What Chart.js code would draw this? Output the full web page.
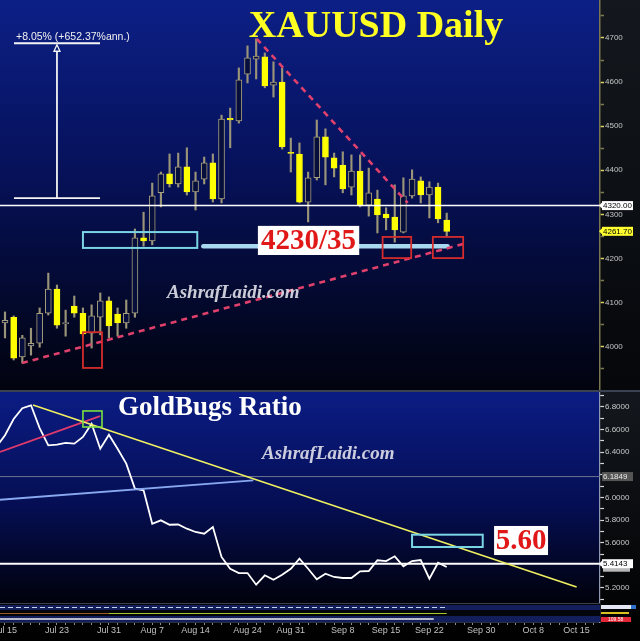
<!DOCTYPE html>
<html><head><meta charset="utf-8">
<script src="https://cdn.jsdelivr.net/npm/chart.js@4.4.1/dist/chart.umd.min.js"></script>
<style>
html,body{margin:0;padding:0;background:#000;width:640px;height:641px;overflow:hidden}
#c1{position:absolute;left:0;top:0;width:640px;height:390px}
#c2{position:absolute;left:0;top:392px;width:640px;height:249px}
#sep{position:absolute;left:0;top:390px;width:640px;height:2px;background:#3a4252}
</style></head><body>
<canvas id="c1" width="640" height="390"></canvas>
<div id="sep"></div>
<canvas id="c2" width="640" height="249"></canvas>
<script>
// ---------- DATA ----------
const dayIndex = [0,1,2,3,4,5,6,7,8,9,10,11,12,13,14,15,16,17,18,19,20,21,22,23,24,25,26,27,28,29,30,31,32,33,34,35,36,37,38,39,40,41,42,43,44,45,46,47,48,49,50,51];
const opens  = [4054,4067,3977,4002,4008,4076,4131,4052,4092,4076,4031,4067,4104,4074,4054,4076,4247,4240,4349,4392,4369,4408,4351,4380,4417,4335,4518,4512,4618,4652,4657,4593,4600,4441,4437,4328,4383,4476,4428,4412,4362,4398,4321,4335,4301,4294,4260,4342,4376,4344,4362,4287];
const highs  = [4079,4070,4026,4042,4088,4167,4140,4083,4115,4088,4095,4122,4113,4088,4106,4267,4305,4371,4396,4437,4439,4451,4396,4430,4437,4525,4541,4632,4682,4698,4666,4646,4632,4473,4462,4396,4514,4494,4439,4442,4435,4435,4405,4355,4315,4367,4383,4401,4385,4374,4371,4303];
const lows   = [4020,3970,3963,3981,3999,4072,4042,4024,4067,4024,3997,4027,4020,4024,4042,4067,4228,4231,4317,4362,4362,4344,4310,4369,4328,4326,4451,4507,4598,4607,4587,4566,4448,4396,4326,4283,4378,4367,4385,4349,4344,4317,4296,4258,4265,4237,4258,4337,4326,4292,4281,4249];
const closes = [4060,3974,4020,4008,4076,4131,4049,4055,4076,4029,4070,4104,4047,4054,4076,4247,4240,4342,4392,4369,4408,4351,4376,4417,4335,4516,4514,4605,4655,4659,4591,4600,4453,4438,4328,4383,4476,4430,4405,4358,4398,4321,4349,4299,4292,4265,4342,4380,4344,4362,4290,4261.7];

const ratioIndex = [-1,0,1,2,3,4,5,6,7,8,9,10,11,12,13,14,15,16,17,18,19,20,21,22,23,24,25,26,27,28,29,30,31,32,33,34,35,36,37,38,39,40,41,42,43,44,45,46,47,48,49,50,51];
const ratioValues = [6.446,6.550,6.694,6.789,6.815,6.614,6.461,6.467,6.482,6.476,6.535,6.652,6.431,6.555,6.431,6.299,6.078,6.063,5.768,5.798,5.759,5.761,5.724,5.695,5.680,5.739,5.474,5.370,5.332,5.332,5.229,5.312,5.273,5.317,5.370,5.459,5.370,5.277,5.326,5.297,5.288,5.288,5.347,5.350,5.445,5.438,5.480,5.392,5.438,5.447,5.282,5.423,5.385];

const xTickIdx    = [0,6,12,17,22,28,33,39,44,49,55,61,66];
const xTickLabels = ['Jul 15','Jul 23','Jul 31','Aug 7','Aug 14','Aug 24','Aug 31','Sep 8','Sep 15','Sep 22','Sep 30','Oct 8','Oct 15'];
const priceTicks      = [3950,4000,4050,4100,4150,4200,4250,4300,4350,4400,4450,4500,4550,4600,4650,4700,4750];
const priceLabelTicks = [4000,4100,4200,4300,4400,4500,4600,4700];
const ratioTicks      = [5.1,5.2,5.3,5.4,5.5,5.6,5.7,5.8,5.9,6.0,6.1,6.2,6.3,6.4,6.5,6.6,6.7,6.8,6.9];
const ratioLabelTicks = [5.2,5.4,5.6,5.8,6.0,6.2,6.4,6.6,6.8];

const priceLine = 4320, lastPrice = 4261.70;
const ratioLine = 5.4143, ratioRef = 6.1849;
const supportLevel = 4228;
const measureLow = 4337, measureHigh = 4688;

// ---------- helpers ----------
const X_MIN = -0.577, X_MAX = 68.7;
function line(ctx,x1,y1,x2,y2){ctx.beginPath();ctx.moveTo(x1,y1);ctx.lineTo(x2,y2);ctx.stroke();}
function noPad(s){s.paddingTop=0;s.paddingBottom=0;s.paddingLeft=0;s.paddingRight=0;}
function valueBox(ctx,x,y,text,bg,fg,notch){
  ctx.save();
  ctx.fillStyle=bg;
  ctx.fillRect(x+2,y-4.5,31,9);
  if(notch){ctx.beginPath();ctx.moveTo(x-1,y);ctx.lineTo(x+2,y-3);ctx.lineTo(x+2,y+3);ctx.closePath();ctx.fill();}
  ctx.fillStyle=fg;ctx.font='8px "Liberation Sans", Arial';ctx.textBaseline='middle';ctx.textAlign='left';
  ctx.fillText(text,x+3,y+0.5);
  ctx.restore();
}
const bgPlugin = {
  id:'bg',
  beforeDraw(chart,args,o){
    const {ctx,chartArea:a,width,height}=chart;
    ctx.save();
    const rg=ctx.createLinearGradient(0,0,0,height);
    rg.addColorStop(0,o.r0);rg.addColorStop(1,o.r1);
    ctx.fillStyle=rg;ctx.fillRect(0,0,width,height);
    const g=ctx.createLinearGradient(0,a.top,0,a.bottom);
    o.stops.forEach(s=>g.addColorStop(s[0],s[1]));
    ctx.fillStyle=g;ctx.fillRect(a.left,a.top,a.right-a.left,a.bottom-a.top);
    ctx.restore();
  }
};

// ---------- TOP CHART ----------
const ann1 = {
  id:'ann1',
  afterDatasetsDraw(chart){
    const ctx=chart.ctx,a=chart.chartArea;
    const X=v=>chart.scales.x.getPixelForValue(v), Y=v=>chart.scales.y.getPixelForValue(v);
    ctx.save();
    ctx.beginPath();ctx.rect(a.left,a.top,a.right-a.left,a.bottom-a.top);ctx.clip();
    ctx.strokeStyle='#ffffff';ctx.lineWidth=1.5;line(ctx,a.left,Y(priceLine),a.right,Y(priceLine));
    // measurement tool
    const xv=X(6.0), yT=Y(measureHigh), yB=Y(measureLow);
    ctx.strokeStyle='#f4f4f4';ctx.lineWidth=1.8;
    line(ctx,X(1.04),yB,X(10.97),yB);
    line(ctx,X(1.04),yT,X(10.97),yT);
    line(ctx,xv,yT+8,xv,yB);
    ctx.lineWidth=1.3;ctx.fillStyle='#0b1c78';
    ctx.beginPath();ctx.moveTo(xv,yT+1.5);ctx.lineTo(xv-3,yT+8);ctx.lineTo(xv+3,yT+8);ctx.closePath();ctx.fill();ctx.stroke();
    ctx.fillStyle='#f0f0f0';ctx.font='10.5px "Liberation Sans", Arial';ctx.textBaseline='alphabetic';ctx.textAlign='left';
    ctx.fillText('+8.05% (+652.37%ann.)',16,yT-3);
    // cyan zone box
    ctx.strokeStyle='#7ad4e4';ctx.lineWidth=2;
    ctx.strokeRect(X(9.0),Y(4260),X(22.2)-X(9.0),Y(4224)-Y(4260));
    // thick support line
    ctx.strokeStyle='#a8d8f0';ctx.lineWidth=4.5;ctx.lineCap='round';
    line(ctx,X(22.9),Y(supportLevel),X(51.1),Y(supportLevel));
    ctx.lineCap='butt';
    // dashed trend lines
    ctx.strokeStyle='#e0406c';ctx.lineWidth=2.6;ctx.setLineDash([6,5]);
    line(ctx,X(1.96),Y(3963),X(52.9),Y(4233));
    line(ctx,X(29.06),Y(4698),X(46.5),Y(4326));
    ctx.setLineDash([]);
    // red boxes
    ctx.strokeStyle='#d42c2c';ctx.lineWidth=1.8;
    [[9.0,11.2,4033,3952],[43.6,46.9,4249,4201],[49.4,52.9,4249,4201]].forEach(b=>{
      ctx.strokeRect(X(b[0]),Y(b[2]),X(b[1])-X(b[0]),Y(b[3])-Y(b[2]));
    });
    // 4230/35 label
    const bx1=X(29.2),bx2=X(40.9),by1=Y(4274),by2=Y(4208);
    ctx.fillStyle='#ffffff';ctx.fillRect(bx1,by1,bx2-bx1,by2-by1);
    ctx.fillStyle='#e01818';ctx.font='bold 29px "Liberation Serif", "Times New Roman", serif';
    ctx.textAlign='center';ctx.textBaseline='middle';
    ctx.fillText('4230/35',(bx1+bx2)/2,(by1+by2)/2+1.5);
    // title
    ctx.fillStyle='#ffff22';ctx.font='bold 38px "Liberation Serif", "Times New Roman", serif';
    ctx.textAlign='center';ctx.textBaseline='alphabetic';
    ctx.fillText('XAUUSD Daily',376,37);
    // watermark
    ctx.fillStyle='rgba(225,225,235,0.9)';ctx.font='italic bold 19px "Liberation Serif", "Times New Roman", serif';
    ctx.textAlign='left';ctx.fillText('AshrafLaidi.com',167,298);
    ctx.restore();
  },
  afterDraw(chart){
    const ctx=chart.ctx,a=chart.chartArea,Y=v=>chart.scales.y.getPixelForValue(v);
    valueBox(ctx,a.right,Y(priceLine),'4320.00','#ffffff','#000000',true);
    valueBox(ctx,a.right,Y(lastPrice),'4261.70','#ffff30','#000000',true);
  }
};

new Chart(document.getElementById('c1'),{
  type:'bar',
  data:{datasets:[
    {label:'wicks',data:dayIndex.map((d,k)=>({x:d,y:[lows[k],highs[k]]})),
     backgroundColor:'#9a9478',barThickness:1.5,grouped:false,order:2},
    {label:'bodies',data:dayIndex.map((d,k)=>({x:d,y:[opens[k],closes[k]]})),
     backgroundColor:c=>closes[c.dataIndex]>=opens[c.dataIndex]?'rgba(6,14,60,1)':'#ffff00',
     borderColor:c=>closes[c.dataIndex]>=opens[c.dataIndex]?'#a8a07c':'#ffff00',
     borderWidth:1,borderSkipped:false,barThickness:6,grouped:false,order:1}
  ]},
  options:{
    responsive:false,animation:false,devicePixelRatio:1,
    layout:{padding:0,autoPadding:false},
    plugins:{legend:{display:false},tooltip:{enabled:false},
      bg:{r0:'#14181e',r1:'#05070a',stops:[[0,'#0c1f86'],[0.45,'#061158'],[1,'#01030e']]}},
    scales:{
      x:{type:'linear',min:X_MIN,max:X_MAX,display:false,offset:false,afterFit:noPad},
      y:{position:'right',min:3902,max:4786,
        afterFit(s){s.width=40;noPad(s);},
        afterBuildTicks(s){s.ticks=priceTicks.map(v=>({value:v}));},
        ticks:{color:'#c4c4c4',font:{size:8,family:'"Liberation Sans", Arial'},padding:1,
          callback:v=>priceLabelTicks.includes(v)?String(v):''},
        grid:{drawOnChartArea:false,drawTicks:true,tickLength:4,
          tickColor:c=>priceLabelTicks.includes(c.tick&&c.tick.value)?'#d8d060':'#7c7a50',tickWidth:1.5},
        border:{display:true,color:'#7a7650',width:1.5}}
    }
  },
  plugins:[bgPlugin,ann1]
});

// ---------- BOTTOM CHART ----------
const ann2 = {
  id:'ann2',
  beforeDatasetsDraw(chart){
    const ctx=chart.ctx,a=chart.chartArea;
    const Y=v=>chart.scales.y.getPixelForValue(v);
    ctx.save();
    ctx.strokeStyle='#6c7290';ctx.lineWidth=1;line(ctx,a.left,Y(ratioRef),a.right,Y(ratioRef));
    ctx.restore();
  },
  afterDatasetsDraw(chart){
    const ctx=chart.ctx,a=chart.chartArea;
    const X=v=>chart.scales.x.getPixelForValue(v), Y=v=>chart.scales.y.getPixelForValue(v);
    ctx.save();
    ctx.beginPath();ctx.rect(a.left,a.top,a.right-a.left,a.bottom-a.top);ctx.clip();
    ctx.strokeStyle='#ffffff';ctx.lineWidth=2;line(ctx,a.left,Y(ratioLine),a.right,Y(ratioLine));
    ctx.strokeStyle='#e03a6c';ctx.lineWidth=1.8;line(ctx,X(-0.58),Y(6.402),X(10.97),Y(6.720));
    ctx.strokeStyle='#88a8f0';ctx.lineWidth=1.8;line(ctx,X(-0.58),Y(5.980),X(28.67),Y(6.152));
    ctx.strokeStyle='#f0f060';ctx.lineWidth=1.6;line(ctx,X(3.23),Y(6.818),X(66.0),Y(5.208));
    ctx.strokeStyle='#7ce040';ctx.lineWidth=1.6;
    ctx.strokeRect(X(9.0),Y(6.765),X(11.2)-X(9.0),Y(6.623)-Y(6.765));
    ctx.strokeStyle='#7ad4e4';ctx.lineWidth=2;
    ctx.strokeRect(X(47.0),Y(5.671),X(55.16)-X(47.0),Y(5.562)-Y(5.671));
    const bx1=X(56.47),bx2=X(62.7),by1=Y(5.748),by2=Y(5.491);
    ctx.fillStyle='#ffffff';ctx.fillRect(bx1,by1,bx2-bx1,by2-by1);
    ctx.fillStyle='#e01818';ctx.font='bold 29px "Liberation Serif", "Times New Roman", serif';
    ctx.textAlign='center';ctx.textBaseline='middle';ctx.fillText('5.60',(bx1+bx2)/2,(by1+by2)/2+1.5);
    ctx.fillStyle='#ffffff';ctx.font='bold 27px "Liberation Serif", "Times New Roman", serif';
    ctx.textAlign='left';ctx.textBaseline='alphabetic';ctx.fillText('GoldBugs Ratio',118,23);
    ctx.fillStyle='rgba(225,225,235,0.9)';ctx.font='italic bold 19px "Liberation Serif", "Times New Roman", serif';
    ctx.fillText('AshrafLaidi.com',262,67);
    // lower indicator strips
    const s0=a.bottom-19;
    ctx.fillStyle='#05060b';ctx.fillRect(a.left,s0,a.right-a.left,19);
    ctx.fillStyle='#3a404c';ctx.fillRect(a.left,s0,a.right-a.left,1);
    ctx.fillStyle='#121f5c';ctx.fillRect(a.left,s0+2,a.right-a.left,5);
    ctx.fillStyle='#121f5c';ctx.fillRect(a.left,s0+13,a.right-a.left,6);
    ctx.strokeStyle='#c8d0e8';ctx.lineWidth=1.2;ctx.setLineDash([5,3]);
    line(ctx,a.left,s0+4.5,X(51),s0+4.5);ctx.setLineDash([]);
    ctx.strokeStyle='#9a5a20';ctx.lineWidth=1;line(ctx,a.left,s0+10.5,X(12),s0+10.5);
    ctx.strokeStyle='#a8c828';line(ctx,X(12),s0+10.5,X(51),s0+10.5);
    ctx.strokeStyle='#f0f0f0';ctx.lineWidth=1.5;line(ctx,a.left,s0+16,X(49.5),s0+16);
    ctx.restore();
  },
  afterDraw(chart){
    const ctx=chart.ctx,a=chart.chartArea,Y=v=>chart.scales.y.getPixelForValue(v);
    valueBox(ctx,a.right,Y(ratioRef),'6.1849','#555555','#e8e8e8',false);
    ctx.save();ctx.fillStyle='#b8b8b8';ctx.fillRect(a.right+3,Y(ratioLine)+4,27,4);ctx.restore();
    valueBox(ctx,a.right,Y(ratioLine),'5.4143','#ffffff','#000000',true);
    const s0=a.bottom-19;
    ctx.save();
    ctx.fillStyle='#e4e8f4';ctx.fillRect(a.right+1,s0+2,30,4);
    ctx.fillStyle='#3070d0';ctx.fillRect(a.right+31,s0+2,5,4);
    ctx.fillStyle='#d8c020';ctx.fillRect(a.right+1,s0+9,28,2);
    ctx.fillStyle='#e02838';ctx.fillRect(a.right+1,s0+14,30,5);
    ctx.fillStyle='#ffffff';ctx.font='5px "Liberation Sans", Arial';ctx.textBaseline='middle';
    ctx.fillText('109.58',a.right+8,s0+16.7);
    ctx.restore();
  }
};

const xAllTicks=[];for(let i=0;i<=68;i++)xAllTicks.push(i);
new Chart(document.getElementById('c2'),{
  type:'line',
  data:{datasets:[{data:ratioIndex.map((d,k)=>({x:d,y:ratioValues[k]})),
    borderColor:'#ffffff',borderWidth:1.8,pointRadius:0,tension:0,fill:false}]},
  options:{
    responsive:false,animation:false,devicePixelRatio:1,
    layout:{padding:0,autoPadding:false},
    plugins:{legend:{display:false},tooltip:{enabled:false},
      bg:{r0:'#14181e',r1:'#000000',stops:[[0,'#0b1c84'],[0.5,'#050e52'],[0.9,'#01020e'],[1,'#000004']]}},
    scales:{
      x:{type:'linear',min:X_MIN,max:X_MAX,offset:false,
        afterFit(s){s.height=19;noPad(s);},
        afterBuildTicks(s){s.ticks=xAllTicks.map(v=>({value:v}));},
        ticks:{autoSkip:false,maxRotation:0,minRotation:0,padding:0,color:'#c0c0c0',
          font:{size:9,family:'"Liberation Sans Narrow", "Liberation Sans", Arial'},
          callback:v=>{const k=xTickIdx.indexOf(v);return k>=0?xTickLabels[k]:'';}},
        grid:{drawOnChartArea:false,drawTicks:true,tickLength:3,tickColor:'#8a8a8a'},
        border:{display:true,color:'#2a3040'}},
      y:{position:'right',min:4.899,max:6.9326,
        afterFit(s){s.width=40;noPad(s);},
        afterBuildTicks(s){s.ticks=ratioTicks.map(v=>({value:v}));},
        ticks:{color:'#c8c8c8',font:{size:8,family:'"Liberation Sans", Arial'},padding:1,
          callback:v=>ratioLabelTicks.some(t=>Math.abs(t-v)<1e-6)?v.toFixed(4):''},
        grid:{drawOnChartArea:false,drawTicks:true,tickLength:4,tickColor:'#d8d8d8',tickWidth:1.2},
        border:{display:true,color:'#8c98b0',width:1.2}}
    }
  },
  plugins:[bgPlugin,ann2]
});
</script>
</body></html>
